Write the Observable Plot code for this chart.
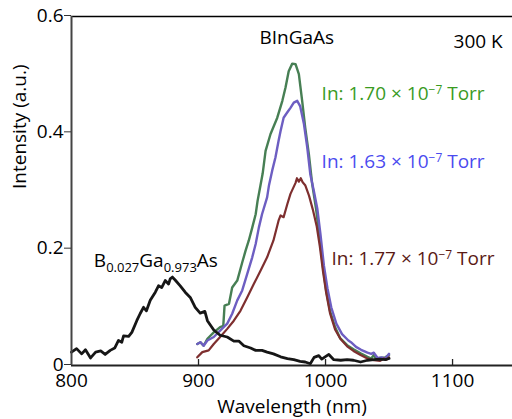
<!DOCTYPE html>
<html><head><meta charset="utf-8">
<script src="https://cdn.jsdelivr.net/npm/d3@7"></script>
<script src="https://cdn.jsdelivr.net/npm/@observablehq/plot@0.6"></script>
<style>
html,body{margin:0;padding:0;background:#fff;}
#chart svg{display:block;}
</style></head><body><div id="chart"></div>
<script>
// ---- tick values ----
const xTicks = [800, 900, 1000, 1100];
const yTicks = [0, 0.2, 0.4, 0.6];
const xTitle = "Wavelength (nm)";
const yTitle = "Intensity (a.u.)";

// ---- B0.027Ga0.973As (black) ----
const bgaasWl = [800,804,808,811,815,819,823,826.5,830.5,834,837,839.6,841,845,847.5,851.4,854,856.7,859,862,866,868.5,871,873.8,876.4,877.7,879.5,881.6,885.6,889.5,893.5,897.4,901.3,905,907,912,917,922.6,927.8,931.7,935.7,941,945,950,954,959,964.6,970,975,980,984,988,991,994.7,997,1002.6,1006.5,1012,1017,1022,1027.6,1033,1038,1043,1047,1050];
const bgaasI  = [0.023,0.029,0.020,0.027,0.013,0.023,0.025,0.019,0.026,0.030,0.043,0.040,0.051,0.050,0.057,0.077,0.089,0.100,0.094,0.112,0.126,0.137,0.134,0.146,0.140,0.149,0.152,0.147,0.137,0.126,0.117,0.100,0.090,0.093,0.077,0.061,0.052,0.049,0.042,0.042,0.034,0.030,0.026,0.026,0.023,0.020,0.015,0.012,0.010,0.007,0.006,0.003,0.014,0.017,0.011,0.019,0.010,0.009,0.010,0.009,0.006,0.009,0.010,0.011,0.010,0.012];

// ---- In 1.70e-7 Torr (green) ----
const greenWl = [899,901.5,904,907,912,917,919.5,920.5,924,926.5,930.5,934.4,937,939.6,942.3,945,946.5,948.8,950.5,952.8,956.7,962,966,968.5,971,973.8,976.4,979,981.6,984,986.9,989.5,992.5,995,998,1000.5,1003.5,1007.5,1011.5,1017,1022,1027.6,1033,1036,1038,1040,1043,1047,1050];
const greenI  = [0.037,0.040,0.034,0.046,0.057,0.066,0.068,0.103,0.106,0.134,0.146,0.177,0.197,0.215,0.237,0.260,0.283,0.310,0.330,0.369,0.398,0.426,0.455,0.478,0.506,0.519,0.518,0.501,0.455,0.409,0.363,0.312,0.270,0.226,0.169,0.129,0.094,0.066,0.047,0.035,0.028,0.021,0.015,0.012,0.018,0.011,0.013,0.014,0.018];

// ---- In 1.63e-7 Torr (purple) ----
const blueWl = [899,901.6,904,907,912,917,922.6,926.5,930.5,934.4,938.3,942.3,945,947.5,950,954,955.5,958,960.6,963,964.6,967,969.8,972.4,975,977.7,980,983,985.6,988,990.8,993.5,996,998.7,1001.5,1004.5,1008.5,1013,1018,1020,1024,1028,1033,1036,1038,1041,1044,1047,1050];
const blueI  = [0.037,0.040,0.034,0.043,0.049,0.060,0.072,0.089,0.112,0.129,0.157,0.186,0.209,0.237,0.260,0.289,0.310,0.335,0.358,0.386,0.403,0.426,0.435,0.443,0.452,0.455,0.446,0.415,0.375,0.329,0.300,0.270,0.226,0.172,0.133,0.100,0.072,0.054,0.043,0.040,0.032,0.027,0.022,0.020,0.022,0.013,0.014,0.012,0.020];

// ---- In 1.77e-7 Torr (brown) ----
const redWl = [899,903,908,912,917,922.6,927.8,933,938.3,943.5,948.8,954,959,963,964.6,967,970,972.4,976.4,977.5,979,980.5,982,984,987,990,993,995.5,998,1000.5,1003.5,1007.5,1012,1017,1022,1027.6,1033,1038,1043,1046,1048,1050];
const redI  = [0.014,0.023,0.026,0.037,0.049,0.063,0.077,0.094,0.117,0.140,0.163,0.186,0.215,0.249,0.258,0.255,0.278,0.295,0.314,0.322,0.316,0.322,0.315,0.310,0.292,0.268,0.240,0.205,0.162,0.125,0.090,0.062,0.045,0.033,0.025,0.018,0.012,0.009,0.008,0.012,0.010,0.014];

// ---- annotation texts ----
const labelBInGaAs = "BInGaAs";
const labelTemp = "300 K";
const labelGreen = [["In: 1.70 × 10", ""], ["−7", "sup"], [" Torr", ""]];
const labelBlue  = [["In: 1.63 × 10", ""], ["−7", "sup"], [" Torr", ""]];
const labelRed   = [["In: 1.77 × 10", ""], ["−7", "sup"], [" Torr", ""]];
const labelBGaAs = [["B", ""], ["0.027", "sub"], ["Ga", ""], ["0.973", "sub"], ["As", ""]];

// ---- layout / style ----
const W = 512, H = 419;
const mL = 71, mT = 16, mB = 54;
const plotH = H - mT - mB;
const FONT = "'Open Sans', sans-serif";
const FS = 19;
const C = {black: "#161616", green: "#477f54", blue: "#6d5ec2", red: "#7e2f2f",
           tGreen: "#3a9b1f", tBlue: "#4b4bef", tRed: "#5a1914"};

const series = (wl, v) => wl.map((w, i) => ({wl: w, I: v[i]}));
const joinParts = p => p.map(d => d[0]).join("");

const lineOpts = (stroke, w) => ({x: "wl", y: "I", stroke, strokeWidth: w, strokeLinejoin: "round", strokeLinecap: "round"});
const txt = (s, x, y, fill) => Plot.text([s], {text: d => d, x: () => x, y: () => y, textAnchor: "start", lineAnchor: "bottom", fill, fontSize: FS});

const chart = Plot.plot({
  width: W, height: H,
  marginLeft: mL, marginTop: mT, marginBottom: mB, marginRight: 0,
  style: {fontFamily: FONT, fontSize: FS + "px", color: "#000", background: "#fff"},
  x: {domain: [800, 1147.2]},
  y: {domain: [0, 0.6]},
  marks: [
    Plot.ruleY([0.6], {stroke: "#000", strokeWidth: 1.4}),
    Plot.line(series(greenWl, greenI), lineOpts(C.green, 2.4)),
    Plot.line(series(blueWl, blueI), lineOpts(C.blue, 2.4)),
    Plot.line(series(redWl, redI), lineOpts(C.red, 2.2)),
    Plot.line(series(bgaasWl, bgaasI), lineOpts(C.black, 2.8)),
    Plot.ruleY([0], {stroke: "#222", strokeWidth: 2}),
    Plot.ruleX([800], {stroke: "#444", strokeWidth: 2}),
    Plot.tickX(xTicks.slice(1), {x: d => d, insetTop: plotH - 6, stroke: "#222", strokeWidth: 1.3}),
    Plot.axisX({ticks: xTicks, tickSize: 0, tickPadding: 8, tickFormat: d => String(d), label: null, fontSize: FS}),
    Plot.axisY({ticks: yTicks, tickSize: 7, tickPadding: 1, dy: -1, tickFormat: d => d === 0 ? "0" : d.toFixed(1), label: null, fontSize: FS, stroke: "#333"}),
    Plot.text([xTitle], {text: d => d, frameAnchor: "bottom", lineAnchor: "bottom", dy: 47.5, fontSize: FS}),
    Plot.text([yTitle], {text: d => d, frameAnchor: "left", rotate: -90, lineAnchor: "bottom", dx: -46, dy: -2, fontSize: FS}),
    txt(labelBInGaAs, 948, 0.552, "#000"),
    txt(labelTemp, 1100.8, 0.545, "#000"),
    txt(joinParts(labelGreen), 996.9, 0.4556, C.tGreen),
    txt(joinParts(labelBlue), 996.9, 0.3387, C.tBlue),
    txt(joinParts(labelRed), 1004.7, 0.1736, C.tRed),
    txt(joinParts(labelBGaAs), 817.6, 0.169, "#000")
  ]
});

// rich text: sub/superscripts as tspans
function rich(svg, parts) {
  const full = joinParts(parts);
  svg.querySelectorAll("text").forEach(t => {
    if (t.textContent !== full) return;
    t.textContent = "";
    let shift = 0;
    for (const [s, kind] of parts) {
      const ts = document.createElementNS("http://www.w3.org/2000/svg", "tspan");
      const target = kind === "sub" ? 5 : kind === "sup" ? -6 : 0;
      if (target !== shift) ts.setAttribute("dy", target - shift);
      shift = target;
      if (kind === "sub") ts.setAttribute("font-size", 13);
      if (kind === "sup") ts.setAttribute("font-size", 12);
      ts.textContent = s;
      t.appendChild(ts);
    }
  });
}
[labelGreen, labelBlue, labelRed, labelBGaAs].forEach(p => rich(chart, p));

document.getElementById("chart").appendChild(chart);
</script>
</body></html>
